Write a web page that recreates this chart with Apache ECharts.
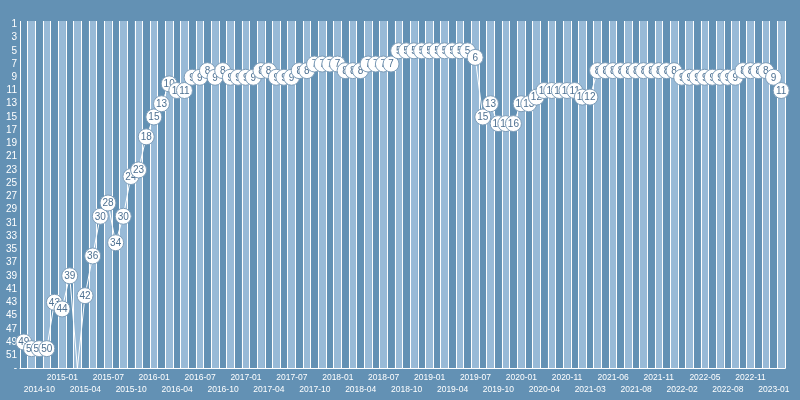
<!DOCTYPE html>
<html><head><meta charset="utf-8">
<script src="https://cdn.jsdelivr.net/npm/echarts@6/dist/echarts.min.js"></script>
<style>html,body{margin:0;padding:0;background:#6391b4}#c{width:800px;height:400px}</style>
</head><body><div id="c"></div>
<script>
// Snapshot dates (x categories)
const categories = [
 '2014-10-01','2014-11-01','2014-12-01','2015-01-01','2015-02-01','2015-03-01','2015-04-01','2015-05-01','2015-06-01','2015-07-01',
 '2015-08-01','2015-09-01','2015-10-01','2015-11-01','2015-12-01','2016-01-01','2016-02-01','2016-03-01','2016-04-01','2016-05-01',
 '2016-06-01','2016-07-01','2016-08-01','2016-09-01','2016-10-01','2016-11-01','2016-12-01','2017-01-01','2017-02-01','2017-03-01',
 '2017-04-01','2017-05-01','2017-06-01','2017-07-01','2017-08-01','2017-09-01','2017-10-01','2017-11-01','2017-12-01','2018-01-01',
 '2018-02-01','2018-03-01','2018-04-01','2018-05-01','2018-06-01','2018-07-01','2018-08-01','2018-09-01','2018-10-01','2018-11-01',
 '2018-12-01','2019-01-01','2019-02-01','2019-03-01','2019-04-01','2019-05-01','2019-06-01','2019-07-01','2019-08-01','2019-09-01',
 '2019-10-01','2019-11-01','2019-12-01','2020-01-01','2020-02-01','2020-03-01','2020-04-01','2020-06-01','2020-09-01','2020-11-01',
 '2020-12-01','2021-01-01','2021-03-01','2021-04-01','2021-05-01','2021-06-01','2021-06-20','2021-07-01','2021-08-01','2021-09-01',
 '2021-10-01','2021-11-01','2021-12-01','2022-01-01','2022-02-01','2022-03-01','2022-04-01','2022-05-01','2022-06-01','2022-07-01',
 '2022-08-01','2022-09-01','2022-10-01','2022-11-01','2022-12-01','2022-12-20','2023-01-01','2023-02-01','2023-03-01','2023-04-01'
];
// Rank per snapshot (null = unranked, drawn at the "-" position)
const ranks = [
 49,50,50,50,43,44,39,null,42,36,
 30,28,34,30,24,23,18,15,13,10,
 11,11,9,9,8,9,8,9,9,9,
 9,8,8,9,9,9,8,8,7,7,
 7,7,8,8,8,7,7,7,7,5,
 5,5,5,5,5,5,5,5,5,6,
 15,13,16,16,16,13,13,12,11,11,
 11,11,11,12,12,8,8,8,8,8,
 8,8,8,8,8,8,9,9,9,9,
 9,9,9,9,8,8,8,8,9,11
];
const yTickValues = [1,3,5,7,9,11,13,15,17,19,21,23,25,27,29,31,33,35,37,39,41,43,45,47,49,51,53];
const AXIS_MIN = 0.5;
const RANK_MAX = 53; // "-" position (unranked)

const lineData = ranks.map(r => r === null ? RANK_MAX : r);
const markerData = ranks.map((r, i) => [i, r === null ? '-' : r]);

const FONT = 'Liberation Sans, Arial, sans-serif';
const chart = echarts.init(document.getElementById('c'), null, { renderer: 'canvas' });
chart.setOption({
  backgroundColor: '#6391b4',
  animation: false,
  grid: { left: 20, right: 15, top: 21, bottom: 31.5, containLabel: false },
  xAxis: {
    type: 'category',
    data: categories,
    boundaryGap: true,
    axisLine: { show: true, lineStyle: { color: '#ffffff', width: 1 } },
    axisTick: { show: false },
    splitLine: { show: true, interval: 0, lineStyle: { color: '#ffffff', width: 1 } },
    splitArea: { show: true, interval: 0, areaStyle: { color: ['rgba(0,0,0,0)', '#98bad7'] } },
    axisLabel: {
      color: '#ffffff', fontSize: 8.5, fontFamily: FONT,
      align: 'left', margin: 3, lineHeight: 12,
      interval: 0,
      formatter: (v, idx) => {
        if (idx % 3 !== 0 || idx >= categories.length - 1) return '';
        const t = v.slice(0, 7);
        return (idx / 3) % 2 === 0 ? '\n' + t : t;
      }
    }
  },
  yAxis: {
    type: 'value', inverse: true, min: AXIS_MIN, max: RANK_MAX,
    axisLine: { show: false }, axisTick: { show: false }, splitLine: { show: false },
    axisLabel: {
      color: '#ffffff', fontSize: 10, fontFamily: FONT, margin: 3,
      customValues: yTickValues,
      formatter: (v) => v >= RANK_MAX ? '-' : String(v)
    }
  },
  series: [
    {
      type: 'line', data: lineData, z: 2, symbol: 'none',
      lineStyle: { color: '#ffffff', width: 1 }
    },
    {
      type: 'custom', data: markerData, z: 3,
      encode: { x: 0, y: 1 },
      renderItem: (params, api) => {
        const r = api.value(1);
        if (isNaN(r)) return null;
        const p = api.coord([api.value(0), r]);
        return {
          type: 'group',
          children: [
            { type: 'circle', shape: { cx: p[0], cy: p[1], r: 8 },
              style: { fill: '#ffffff', stroke: '#7c9cb8', lineWidth: 1 } },
            { type: 'text', style: { text: String(r), x: p[0], y: p[1] + 0.5, align: 'center', verticalAlign: 'middle',
              fill: '#4e7192', fontSize: 10, fontFamily: FONT } }
          ]
        };
      }
    }
  ]
});
</script></body></html>
